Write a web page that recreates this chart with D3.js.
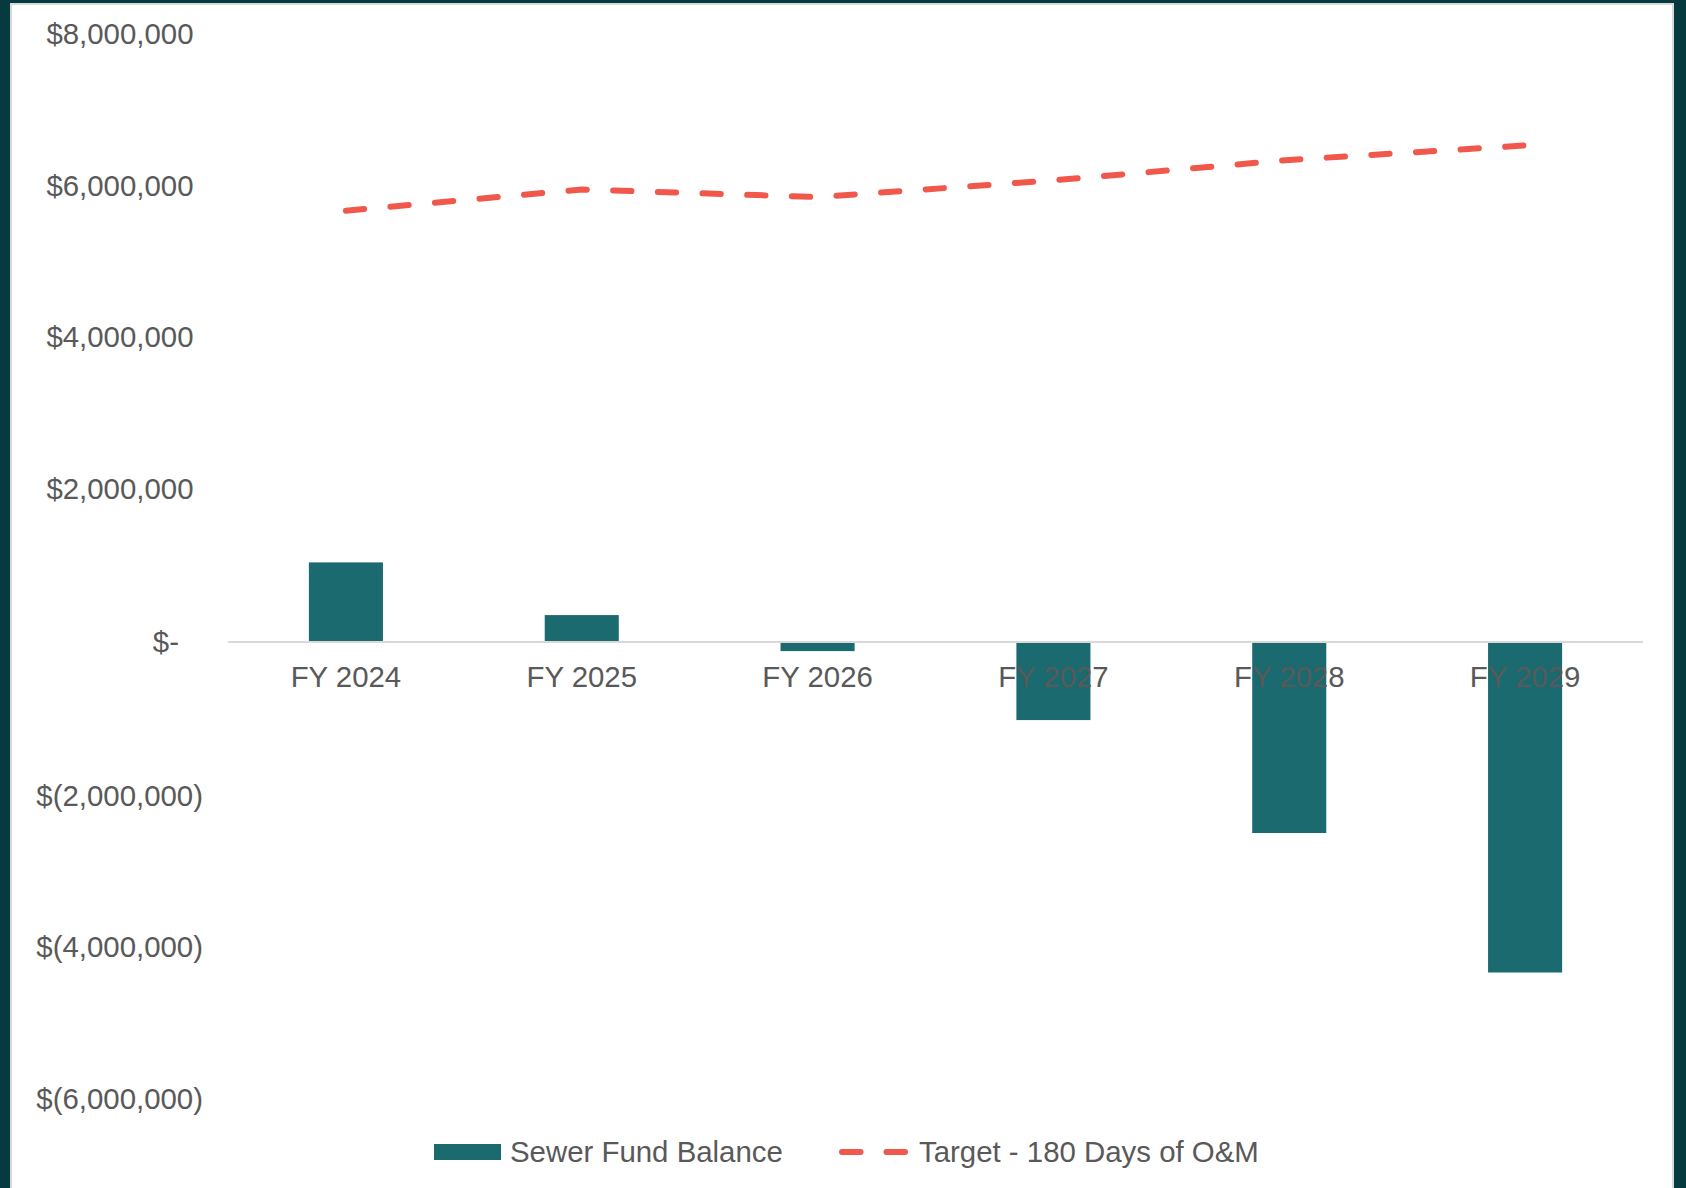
<!DOCTYPE html>
<html>
<head>
<meta charset="utf-8">
<script src="https://cdn.jsdelivr.net/npm/d3@7"></script>
<style>
  html, body { margin: 0; padding: 0; background: #053b3f; }
  svg { display: block; }
  text { font-family: "Liberation Sans", Arial, sans-serif; }
</style>
</head>
<body>
<svg id="chart" width="1686" height="1188"></svg>
<script>
// ---- data ----
const categories = ["FY 2024", "FY 2025", "FY 2026", "FY 2027", "FY 2028", "FY 2029"];
const fundBalance = [1050000, 355000, -120000, -1030000, -2520000, -4360000];
const target180Days = [5690000, 5970000, 5870000, 6090000, 6360000, 6550000];
const yTicks = [8000000, 6000000, 4000000, 2000000, 0, -2000000, -4000000, -6000000];
const seriesNames = ["Sewer Fund Balance", "Target - 180 Days of O&M"];

// ---- styling ----
const barColor = "#1a6a6f";
const lineColor = "#f1584c";
const textColor = "#595959";
const fontSize = 29.4;

const svg = d3.select("#chart");

// frame
svg.append("rect").attr("x", 0).attr("y", 0).attr("width", 1686).attr("height", 1188).attr("fill", "#053b3f");
svg.append("rect").attr("x", 11).attr("y", 4).attr("width", 1662).attr("height", 1220)
  .attr("fill", "#ffffff").attr("stroke", "#d9d9d9").attr("stroke-width", 2);

const plotLeft = 228, plotRight = 1643;
const x = d3.scaleBand().domain(categories).range([plotLeft, plotRight]).paddingInner(0.686).paddingOuter(0.343);
const y = d3.scaleLinear().domain([-6000000, 8000000]).range([1096.8, 35.6]);

// y axis
const fmt = v => v === 0 ? "$-" : (v > 0 ? "$" + d3.format(",")(v) : "$(" + d3.format(",")(-v) + ")");
const yAxis = svg.append("g").attr("transform", "translate(0,0)")
  .call(d3.axisLeft(y).tickValues(yTicks).tickFormat(fmt).tickSize(0));
yAxis.select(".domain").remove();
yAxis.selectAll("text")
  .attr("x", d => d === 0 ? 179 : (d > 0 ? 193.5 : 203))
  .attr("dy", d => d > 0 ? "0.27em" : (d === 0 ? "0.32em" : "0.40em"))
  .attr("text-anchor", "end")
  .attr("fill", textColor)
  .style("font-size", fontSize + "px")
  .style("font-family", "'Liberation Sans', Arial, sans-serif");

// bars
svg.append("g").selectAll("rect").data(categories).join("rect")
  .attr("x", d => x(d))
  .attr("width", x.bandwidth())
  .attr("y", (d, i) => Math.min(y(fundBalance[i]), y(0)))
  .attr("height", (d, i) => Math.abs(y(fundBalance[i]) - y(0)))
  .attr("fill", barColor);

// zero line
svg.append("line").attr("x1", plotLeft).attr("x2", plotRight)
  .attr("y1", y(0)).attr("y2", y(0))
  .attr("stroke", "#d9d9d9").attr("stroke-width", 2.2);

// x axis labels
const xAxis = svg.append("g").attr("transform", `translate(0,${y(0)})`)
  .call(d3.axisBottom(x).tickSize(0));
xAxis.select(".domain").remove();
xAxis.selectAll("text")
  .attr("y", 24.2)
  .attr("dy", "0.71em")
  .attr("fill", textColor)
  .style("font-size", fontSize + "px")
  .style("font-family", "'Liberation Sans', Arial, sans-serif");

// target line
const line = d3.line()
  .x((d, i) => x(categories[i]) + x.bandwidth() / 2)
  .y(d => y(d));
svg.append("path").datum(target180Days)
  .attr("d", line)
  .attr("fill", "none")
  .attr("stroke", lineColor)
  .attr("stroke-width", 6)
  .attr("stroke-linecap", "round")
  .attr("stroke-linejoin", "round")
  .attr("stroke-dasharray", "18.3,26.4");

// legend
const legend = svg.append("g");
legend.append("rect").attr("x", 434).attr("y", 1144).attr("width", 67).attr("height", 16).attr("fill", barColor);
legend.append("text").attr("x", 510).attr("y", 1152).attr("dy", "0.34em")
  .attr("fill", textColor).style("font-size", fontSize + "px").text(seriesNames[0]);
legend.append("line").attr("x1", 842).attr("x2", 908).attr("y1", 1152).attr("y2", 1152)
  .attr("stroke", lineColor).attr("stroke-width", 6).attr("stroke-linecap", "round")
  .attr("stroke-dasharray", "18.5,26");
legend.append("text").attr("x", 919).attr("y", 1152).attr("dy", "0.34em")
  .attr("fill", textColor).style("font-size", fontSize + "px").text(seriesNames[1]);
</script>
</body>
</html>
